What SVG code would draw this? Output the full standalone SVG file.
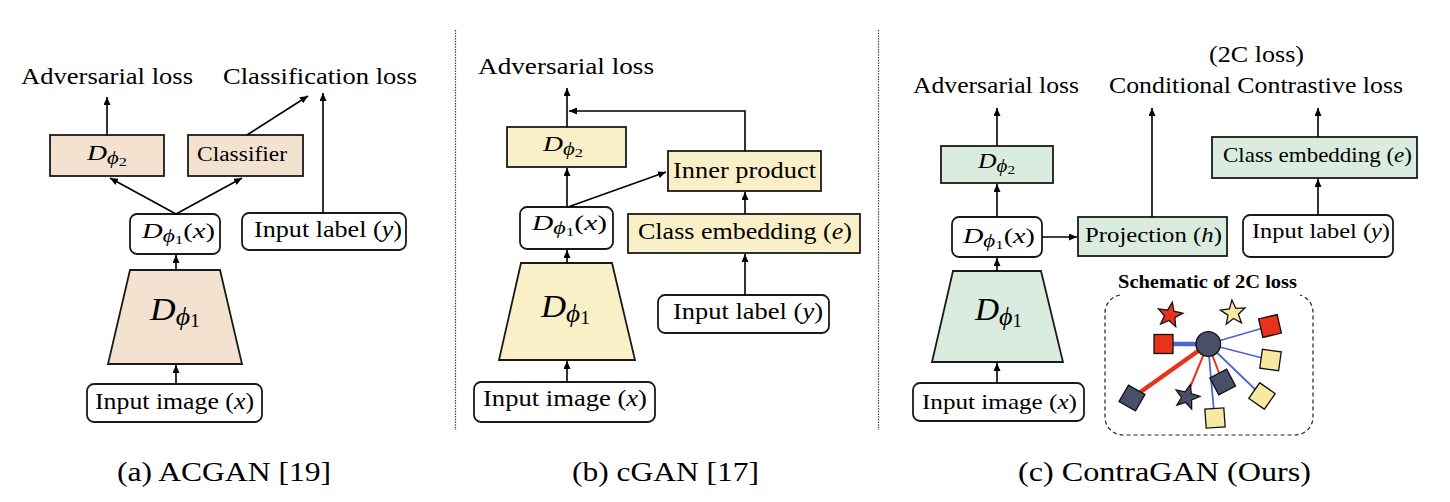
<svg xmlns="http://www.w3.org/2000/svg" width="1450" height="502" viewBox="0 0 1450 502">
<defs>
<style>
text{font-family:"Liberation Serif","Times New Roman",Times,serif;fill:#000}
.lbl{font-size:23px}
.it{font-style:italic}
.box{stroke:#1a1a1a;stroke-width:1.8}
.pa{fill:#f3e2cf}
.pb{fill:#faf0c8}
.pc{fill:#daece0}
.wb{fill:#fff}
.cn{stroke:#000;stroke-width:1.6;fill:none;marker-end:url(#ah)}
.div{stroke:#444;stroke-width:1.2;stroke-dasharray:1.5 1.2}
.cap{font-size:27px}
.sh{stroke:#111;stroke-width:1.3}
.red{fill:#e8321c}
.yel{fill:#f7e8a2}
.drk{fill:#475068}
.bl{stroke:#5066cc;fill:none}
.rl{stroke:#e8321c;fill:none}
</style>
<marker id="ah" markerUnits="userSpaceOnUse" markerWidth="8" markerHeight="7" refX="8" refY="3.5" orient="auto"><path d="M0,0 L8,3.5 L0,7 z" fill="#000"/></marker>
<polygon id="star" points="0,-13 3.23,-4.45 12.36,-4.02 5.23,1.7 7.64,10.52 0,5.5 -7.64,10.52 -5.23,1.7 -12.36,-4.02 -3.23,-4.45"/>
<rect id="sq" x="-9.5" y="-9.5" width="19" height="19"/>
</defs>
<rect width="1450" height="502" fill="#fff"/>

<!-- dividers -->
<line class="div" x1="455.5" y1="30" x2="455.5" y2="430"/>
<line class="div" x1="878.5" y1="30" x2="878.5" y2="430"/>

<!-- ===== Panel (a) ===== -->
<g id="a-adv-loss"><text class="lbl" x="21" y="84" textLength="172" lengthAdjust="spacingAndGlyphs">Adversarial loss</text></g>
<g id="a-cls-loss"><text class="lbl" x="223" y="84" textLength="194" lengthAdjust="spacingAndGlyphs">Classification loss</text></g>
<g id="a-dphi2">
<rect class="box pa" x="50" y="135" width="114" height="41"/>
<text x="87" y="160" font-size="22" textLength="40" lengthAdjust="spacingAndGlyphs"><tspan class="it">D</tspan><tspan class="it" font-size="18" dy="4">ϕ</tspan><tspan font-size="13" dy="2">2</tspan></text>
</g>
<g id="a-classifier">
<rect class="box pa" x="188" y="135" width="115" height="41"/>
<text x="197" y="161" font-size="20" textLength="90" lengthAdjust="spacingAndGlyphs">Classifier</text>
</g>
<g id="a-dphi1x">
<rect class="box wb" x="130" y="214" width="90" height="40" rx="7"/>
<text x="142" y="238" font-size="22" textLength="73" lengthAdjust="spacingAndGlyphs"><tspan class="it">D</tspan><tspan class="it" font-size="18" dy="4">ϕ</tspan><tspan font-size="13" dy="2">1</tspan><tspan dy="-6">(</tspan><tspan class="it">x</tspan><tspan>)</tspan></text>
</g>
<g id="a-label">
<rect class="box wb" x="242" y="213" width="164" height="37" rx="7"/>
<text x="254" y="237" font-size="23" textLength="148" lengthAdjust="spacingAndGlyphs">Input label (<tspan class="it">y</tspan>)</text>
</g>
<g id="a-encoder">
<polygon class="box pa" points="130,270 220,270 242,364 108,364"/>
<text x="150" y="320" font-size="32" textLength="50" lengthAdjust="spacingAndGlyphs"><tspan class="it">D</tspan><tspan class="it" font-size="25" dy="5">ϕ</tspan><tspan font-size="18" dy="2">1</tspan></text>
</g>
<g id="a-image">
<rect class="box wb" x="87" y="384" width="175" height="38" rx="7"/>
<text x="95" y="409" font-size="23" textLength="159" lengthAdjust="spacingAndGlyphs">Input image (<tspan class="it">x</tspan>)</text>
</g>
<g id="a-caption"><text class="cap" x="117" y="481" textLength="214" lengthAdjust="spacingAndGlyphs">(a) ACGAN [19]</text></g>

<!-- ===== Panel (b) ===== -->
<g id="b-adv-loss"><text class="lbl" x="478" y="74" textLength="176" lengthAdjust="spacingAndGlyphs">Adversarial loss</text></g>
<g id="b-dphi2">
<rect class="box pb" x="507" y="127" width="119" height="40"/>
<text x="543" y="151" font-size="22" textLength="40" lengthAdjust="spacingAndGlyphs"><tspan class="it">D</tspan><tspan class="it" font-size="18" dy="4">ϕ</tspan><tspan font-size="13" dy="2">2</tspan></text>
</g>
<g id="b-inner">
<rect class="box pb" x="668" y="151" width="153" height="40"/>
<text x="673" y="178" font-size="24" textLength="143" lengthAdjust="spacingAndGlyphs">Inner product</text>
</g>
<g id="b-dphi1x">
<rect class="box wb" x="520" y="207" width="93" height="42" rx="7"/>
<text x="532" y="230" font-size="22" textLength="75" lengthAdjust="spacingAndGlyphs"><tspan class="it">D</tspan><tspan class="it" font-size="18" dy="4">ϕ</tspan><tspan font-size="13" dy="2">1</tspan><tspan dy="-6">(</tspan><tspan class="it">x</tspan><tspan>)</tspan></text>
</g>
<g id="b-embed">
<rect class="box pb" x="628" y="214" width="232" height="39"/>
<text x="638" y="239" font-size="24" textLength="214" lengthAdjust="spacingAndGlyphs">Class embedding (<tspan class="it">e</tspan>)</text>
</g>
<g id="b-label">
<rect class="box wb" x="658" y="295" width="171" height="38" rx="7"/>
<text x="673" y="319" font-size="24" textLength="150" lengthAdjust="spacingAndGlyphs">Input label (<tspan class="it">y</tspan>)</text>
</g>
<g id="b-encoder">
<polygon class="box pb" points="521,263 612,263 635,360 499,360"/>
<text x="541" y="317" font-size="32" textLength="49" lengthAdjust="spacingAndGlyphs"><tspan class="it">D</tspan><tspan class="it" font-size="25" dy="5">ϕ</tspan><tspan font-size="18" dy="2">1</tspan></text>
</g>
<g id="b-image">
<rect class="box wb" x="474" y="382" width="181" height="40" rx="7"/>
<text x="483" y="406" font-size="24" textLength="164" lengthAdjust="spacingAndGlyphs">Input image (<tspan class="it">x</tspan>)</text>
</g>
<g id="b-caption"><text class="cap" x="572" y="481" textLength="187" lengthAdjust="spacingAndGlyphs">(b) cGAN [17]</text></g>

<!-- ===== Panel (c) ===== -->
<g id="c-2c"><text class="lbl" x="1209" y="62" textLength="95" lengthAdjust="spacingAndGlyphs">(2C loss)</text></g>
<g id="c-adv-loss"><text class="lbl" x="913" y="93" textLength="166" lengthAdjust="spacingAndGlyphs">Adversarial loss</text></g>
<g id="c-cond-loss"><text class="lbl" x="1109" y="93" textLength="294" lengthAdjust="spacingAndGlyphs">Conditional Contrastive loss</text></g>
<g id="c-dphi2">
<rect class="box pc" x="941" y="146" width="112" height="37"/>
<text x="978" y="168" font-size="22" textLength="37" lengthAdjust="spacingAndGlyphs"><tspan class="it">D</tspan><tspan class="it" font-size="18" dy="4">ϕ</tspan><tspan font-size="13" dy="2">2</tspan></text>
</g>
<g id="c-embed">
<rect class="box pc" x="1212" y="137" width="205" height="41"/>
<text x="1223" y="162" font-size="21" textLength="189" lengthAdjust="spacingAndGlyphs">Class embedding (<tspan class="it">e</tspan>)</text>
</g>
<g id="c-dphi1x">
<rect class="box wb" x="952" y="217" width="90" height="40" rx="7"/>
<text x="963" y="243" font-size="22" textLength="72" lengthAdjust="spacingAndGlyphs"><tspan class="it">D</tspan><tspan class="it" font-size="18" dy="4">ϕ</tspan><tspan font-size="13" dy="2">1</tspan><tspan dy="-6">(</tspan><tspan class="it">x</tspan><tspan>)</tspan></text>
</g>
<g id="c-proj">
<rect class="box pc" x="1078" y="217" width="149" height="39"/>
<text x="1085" y="242" font-size="21" textLength="137" lengthAdjust="spacingAndGlyphs">Projection (<tspan class="it">h</tspan>)</text>
</g>
<g id="c-label">
<rect class="box wb" x="1243" y="215" width="150" height="42" rx="7"/>
<text x="1252" y="238" font-size="21" textLength="138" lengthAdjust="spacingAndGlyphs">Input label (<tspan class="it">y</tspan>)</text>
</g>
<g id="c-encoder">
<polygon class="box pc" points="953,271 1041,271 1063,362 932,362"/>
<text x="975" y="320" font-size="32" textLength="47" lengthAdjust="spacingAndGlyphs"><tspan class="it">D</tspan><tspan class="it" font-size="25" dy="5">ϕ</tspan><tspan font-size="18" dy="2">1</tspan></text>
</g>
<g id="c-image">
<rect class="box wb" x="913" y="383" width="171" height="38" rx="7"/>
<text x="922" y="409" font-size="21" textLength="155" lengthAdjust="spacingAndGlyphs">Input image (<tspan class="it">x</tspan>)</text>
</g>
<g id="c-caption"><text class="cap" x="1018" y="481" textLength="293" lengthAdjust="spacingAndGlyphs">(c) ContraGAN (Ours)</text></g>

<!-- schematic of 2C loss -->
<g id="c-schematic">
<text x="1118" y="288" font-size="19" font-weight="bold" textLength="179" lengthAdjust="spacingAndGlyphs">Schematic of 2C loss</text>
<path d="M1120,295 A18,18 0 0 0 1105,313 V417 A18,18 0 0 0 1123,435 H1295 A18,18 0 0 0 1313,417 V313 A18,18 0 0 0 1300,295" fill="none" stroke="#222" stroke-width="1.2" stroke-dasharray="4 3"/>
<line class="bl" x1="1208" y1="344" x2="1163" y2="344" stroke-width="4.5"/>
<line class="bl" x1="1208" y1="344" x2="1270" y2="326" stroke-width="1.8"/>
<line class="bl" x1="1208" y1="344" x2="1270" y2="360" stroke-width="1.8"/>
<line class="bl" x1="1208" y1="344" x2="1262" y2="396" stroke-width="1.8"/>
<line class="bl" x1="1208" y1="344" x2="1214" y2="412" stroke-width="1.8"/>
<line class="rl" x1="1208" y1="344" x2="1132" y2="398" stroke-width="4.5"/>
<line class="rl" x1="1208" y1="344" x2="1189" y2="390" stroke-width="2"/>
<line class="rl" x1="1208" y1="344" x2="1221" y2="378" stroke-width="2"/>
<use href="#star" class="sh red" transform="translate(1170,315) rotate(10)"/>
<use href="#star" class="sh yel" transform="translate(1233,313) rotate(-5)"/>
<use href="#star" class="sh drk" transform="translate(1187,397) rotate(15)"/>
<use href="#sq" class="sh red" transform="translate(1270,326) rotate(-13)"/>
<use href="#sq" class="sh red" transform="translate(1163.5,344)"/>
<use href="#sq" class="sh yel" transform="translate(1270.5,360) rotate(8)"/>
<use href="#sq" class="sh drk" transform="translate(1222.7,382) rotate(-28)"/>
<use href="#sq" class="sh yel" transform="translate(1262,396) rotate(35)"/>
<use href="#sq" class="sh yel" transform="translate(1215,418) rotate(-4)"/>
<use href="#sq" class="sh drk" transform="translate(1132,398) rotate(30)"/>
<circle class="sh drk" cx="1208.3" cy="344" r="12.3"/>
</g>

<!-- connectors -->
<g id="connectors">
<path class="cn" d="M107,135 V97"/>
<path class="cn" d="M247,135 L308,96"/>
<path class="cn" d="M323,213 V93"/>
<path class="cn" d="M176,214 L110,178"/>
<path class="cn" d="M176,214 L242,178"/>
<path class="cn" d="M176,270 V255"/>
<path class="cn" d="M176,384 V365"/>

<path class="cn" d="M567,127 V88"/>
<path class="cn" d="M745,151 V111 H569"/>
<path class="cn" d="M567,207 V168"/>
<path class="cn" d="M568,207 L666,172"/>
<path class="cn" d="M745,214 V192"/>
<path class="cn" d="M745,295 V254"/>
<path class="cn" d="M567,263 V250"/>
<path class="cn" d="M567,382 V361"/>

<path class="cn" d="M997,146 V108"/>
<path class="cn" d="M1152,217 V108"/>
<path class="cn" d="M1318,137 V108"/>
<path class="cn" d="M997,217 V184"/>
<path class="cn" d="M1042,237 H1077"/>
<path class="cn" d="M1318,215 V179"/>
<path class="cn" d="M997,271 V258"/>
<path class="cn" d="M997,383 V363"/>
</g>
</svg>
